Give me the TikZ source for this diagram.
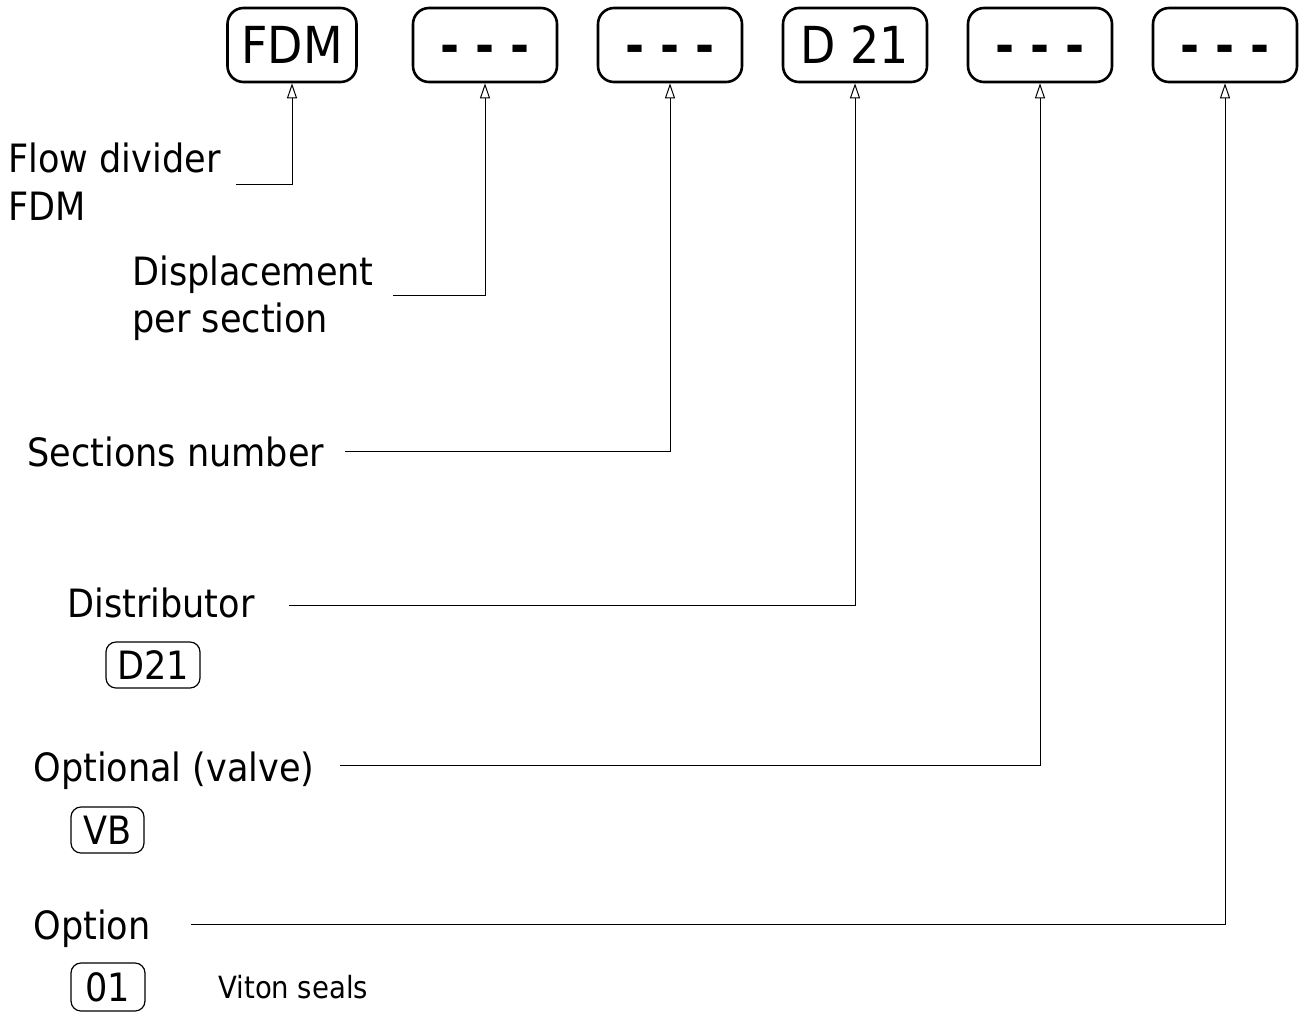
\documentclass[tikz,border=0pt]{standalone}
\usepackage{fontspec}
\setmainfont{DejaVu Sans Condensed}
\usetikzlibrary{arrows.meta}
\newcommand{\blankcode}{{\bfseries\vphantom{D}- - -}}

\begin{document}
\begin{tikzpicture}[x=0.5pt,y=-0.5pt,
  code/.style={draw,line width=1.3pt,rounded corners=8pt,minimum width=72pt,
    minimum height=37pt,inner sep=0pt,font=\fontsize{25.5}{30}\selectfont},
  opt/.style={draw,line width=0.6pt,rounded corners=5pt,minimum height=23pt,
    inner sep=0pt,font=\fontsize{19.5}{24}\selectfont},
  lbl/.style={anchor=base west,inner sep=0pt,font=\fontsize{19.5}{24}\selectfont},
  lead/.style={line width=0.5pt,-{Triangle[open,length=7.5pt,width=5pt]}}]
  \useasboundingbox (0,0) rectangle (1299,1013);
  % code boxes
  \node[code,minimum width=64.5pt] (FDM) at (292,45) {FDM};
  \node[code] (Disp)  at (485,45)  {\blankcode};
  \node[code] (Sect)  at (670,45)  {\blankcode};
  \node[code] (Dist)  at (855,45)  {D 21};
  \node[code] (Valve) at (1040,45) {\blankcode};
  \node[code] (Opt)   at (1225,45) {\blankcode};
  % labels
  \node[lbl] (flow)  at (8,172)   {Flow divider};
  \node[lbl] (flowb) at (8,220)   {FDM};
  \node[lbl] (disp)  at (132,285) {Displacement};
  \node[lbl] (dispb) at (132,332) {per section};
  \node[lbl] (sect)  at (27,466)  {Sections number};
  \node[lbl] (dist)  at (67,617)  {Distributor};
  \node[lbl] (valve) at (33,781)  {Optional (valve)};
  \node[lbl] (opt)   at (33,939)  {Option};
  \node[opt,minimum width=47pt] (d21) at (153,665) {D21};
  \node[opt,minimum width=36.5pt] (vb) at (107.5,830) {VB};
  \node[opt,minimum width=37pt,minimum height=24pt] (o01) at (108,987) {01};
  \node[lbl,font=\fontsize{15.3}{18}\selectfont] (viton) at (218,998) {Viton seals};
  % leader lines
  \coordinate (c1) at (236,184);
  \coordinate (c2) at (393,295);
  \coordinate (c3) at (345,451);
  \coordinate (c4) at (289,605);
  \coordinate (c5) at (340,765);
  \coordinate (c6) at (191,924);
  \draw[lead] (c1) -| (FDM.south);
  \draw[lead] (c2) -| (Disp.south);
  \draw[lead] (c3) -| (Sect.south);
  \draw[lead] (c4) -| (Dist.south);
  \draw[lead] (c5) -| (Valve.south);
  \draw[lead] (c6) -| (Opt.south);
\end{tikzpicture}
\end{document}
